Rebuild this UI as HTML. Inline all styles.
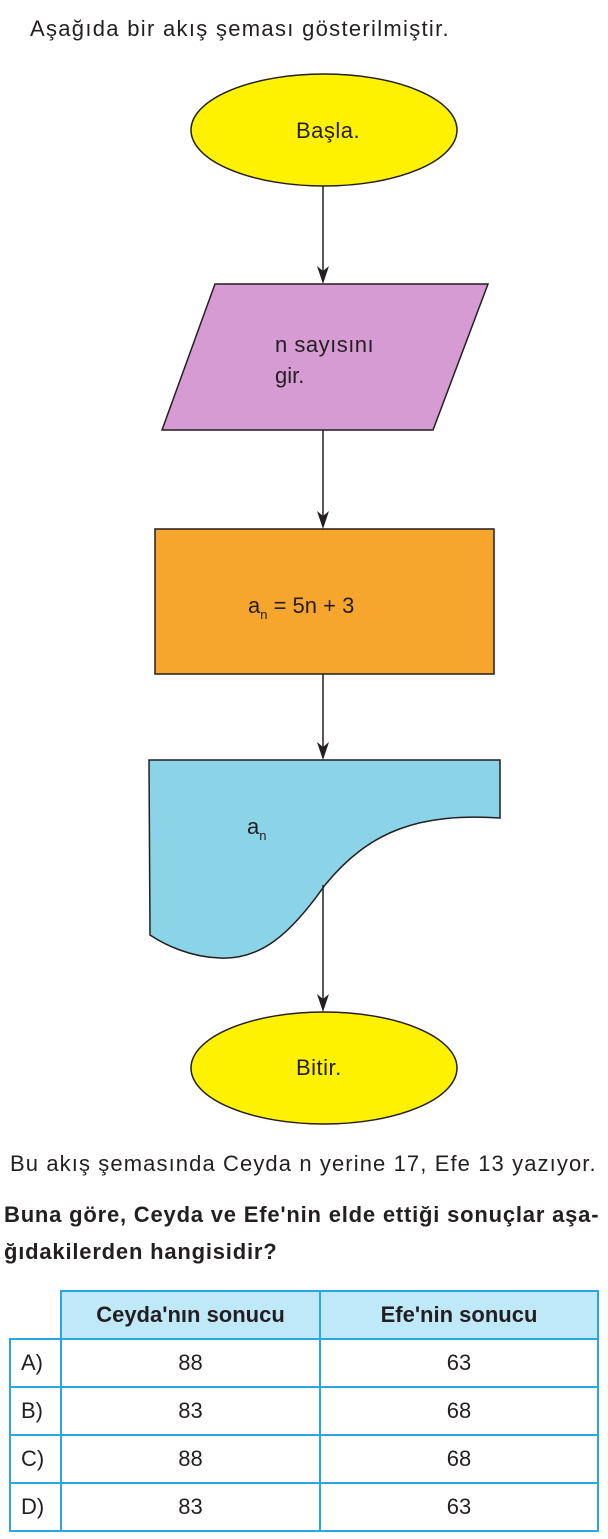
<!DOCTYPE html>
<html><head><meta charset="utf-8"><style>
body{margin:0;background:#fff;width:608px;height:1539px;position:relative;font-family:"Liberation Sans",sans-serif;color:#231f20}
.t{position:absolute;white-space:nowrap}
table{position:absolute;left:9px;top:1290px;border-collapse:collapse;font-size:22px}
td{border:2px solid #2aa6e0;text-align:center;height:46px;padding:0}
</style></head><body>
<svg width="608" height="1150" style="position:absolute;left:0;top:0">
<g stroke="#231f20" stroke-width="1.5">
<line x1="323" y1="186" x2="323" y2="280"/>
<line x1="323" y1="430" x2="323" y2="526"/>
<line x1="323" y1="674" x2="323" y2="756"/>
<ellipse cx="324" cy="130" rx="133" ry="56" fill="#fff200"/>
<polygon points="215,284 488,284 433,430 162,430" fill="#d79bd4"/>
<rect x="155" y="529" width="339" height="145" fill="#f7a62d"/>
<path d="M149,760 L500,760 L500,818 C420,813 370,830 325,885 C290,935 260,960 220,958 C190,957 165,945 150,935 Z" fill="#8bd3e6"/>
<line x1="323" y1="885" x2="323" y2="1008"/>
<ellipse cx="324" cy="1068" rx="133" ry="56" fill="#fff200"/>
</g>
<g fill="#231f20">
<path d="M317,266 L323,284 L329,266 L323,271 Z"/>
<path d="M317,511 L323,529 L329,511 L323,516 Z"/>
<path d="M317,742 L323,760 L329,742 L323,747 Z"/>
<path d="M317,994 L323,1012 L329,994 L323,999 Z"/>
</g>
<g font-family="Liberation Sans" font-size="22" fill="#231f20">
<text x="30" y="36" letter-spacing="1.3">Aşağıda bir akış şeması gösterilmiştir.</text>
<text x="296" y="138" letter-spacing="0.5">Başla.</text>
<text x="275" y="352" letter-spacing="0.5">n sayısını</text>
<text x="275" y="383">gir.</text>
<text x="248" y="613">a<tspan font-size="13" dy="6">n</tspan><tspan dy="-6"> = 5n + 3</tspan></text>
<text x="247" y="834">a<tspan font-size="13" dy="6">n</tspan></text>
<text x="296" y="1075" letter-spacing="0.5">Bitir.</text>
</g>
</svg>
<div class="t" style="left:10px;top:1151px;font-size:22px;letter-spacing:1.1px">Bu akış şemasında Ceyda n yerine 17, Efe 13 yazıyor.</div>
<div class="t" style="left:4px;top:1196px;font-size:22px;font-weight:bold;line-height:37px;letter-spacing:0.8px">Buna göre, Ceyda ve Efe'nin elde ettiği sonuçlar aşa-<br>ğıdakilerden hangisidir?</div>
<table>
<tr><td style="border:none;border-bottom:2px solid #2aa6e0;width:50px;height:43px"></td><td style="width:257px;background:#bfe8f9;font-weight:bold">Ceyda'nın sonucu</td><td style="width:276px;background:#bfe8f9;font-weight:bold">Efe'nin sonucu</td></tr>
<tr><td style="text-align:left;padding-left:10px">A)</td><td>88</td><td>63</td></tr>
<tr><td style="text-align:left;padding-left:10px">B)</td><td>83</td><td>68</td></tr>
<tr><td style="text-align:left;padding-left:10px">C)</td><td>88</td><td>68</td></tr>
<tr><td style="text-align:left;padding-left:10px">D)</td><td>83</td><td>63</td></tr>
</table>
</body></html>
